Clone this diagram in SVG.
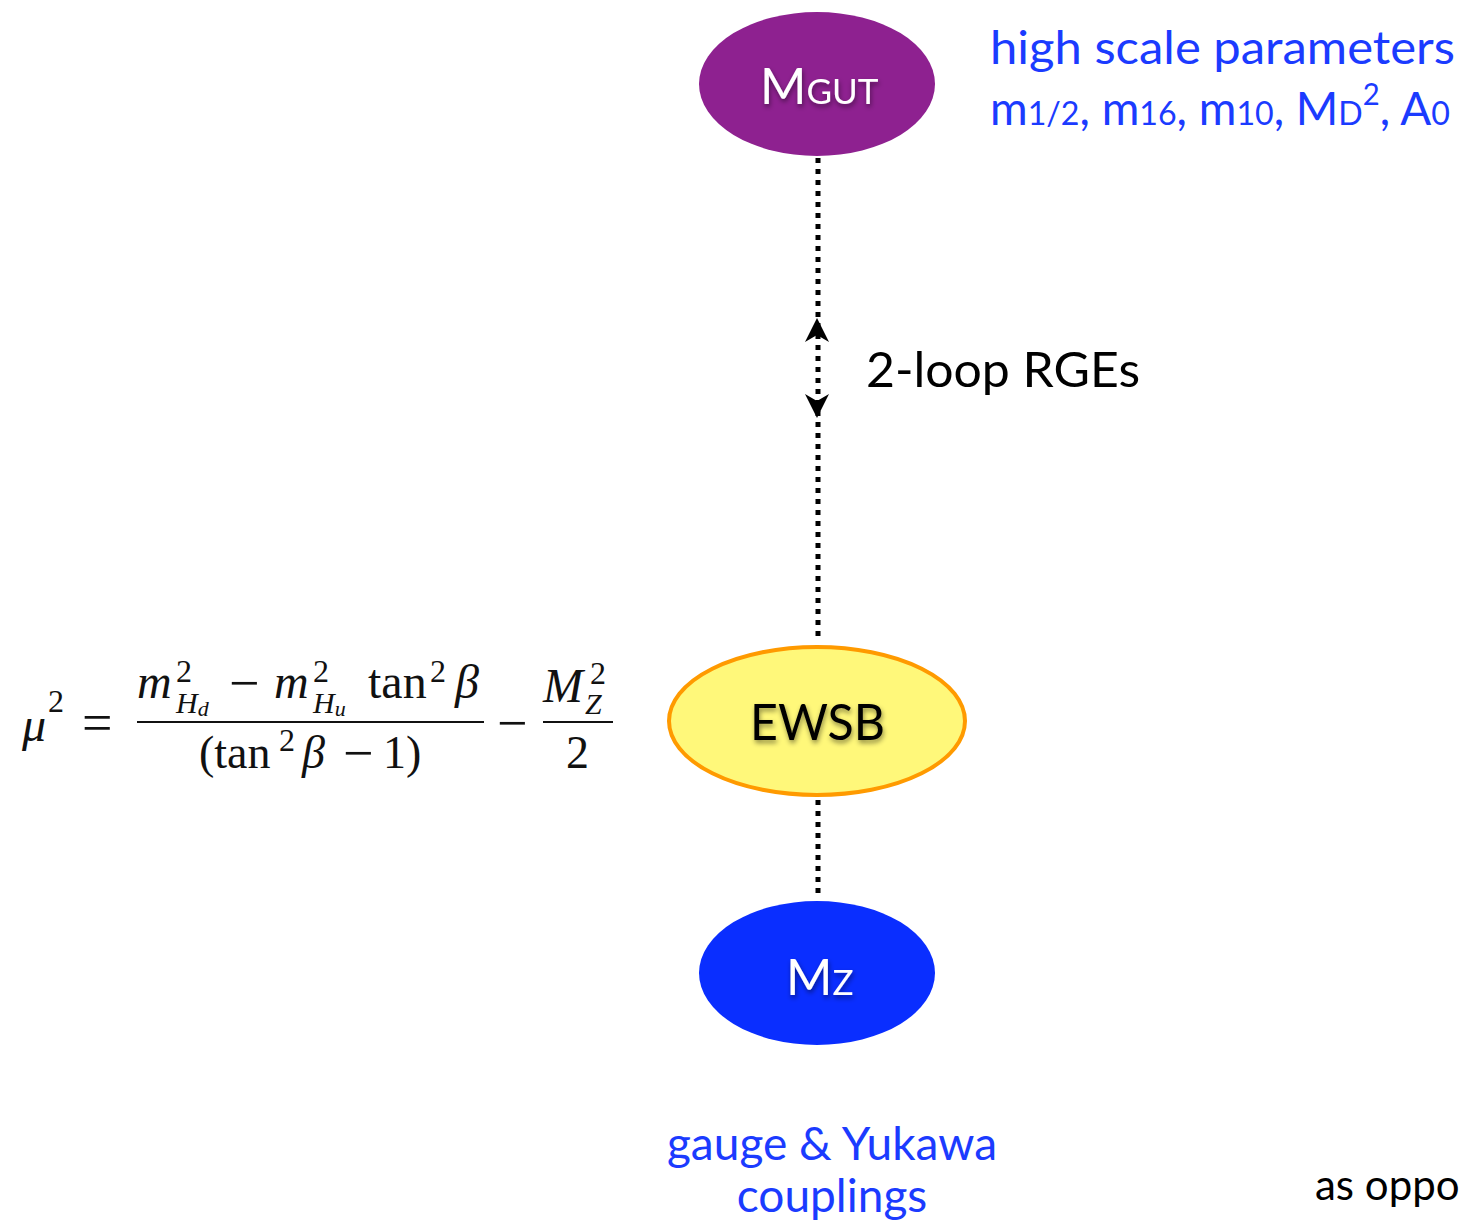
<svg xmlns="http://www.w3.org/2000/svg" xmlns:xlink="http://www.w3.org/1999/xlink" width="1462" height="1227" viewBox="0 0 1462 1227">
<defs>
<style>
.sans{font-family:Lato,"Open Sans","Liberation Sans",sans-serif;}
.blue{fill:#1B3BFF;}
.white{fill:#FFFFFF;}
.black{fill:#000000;}
.math{font-family:"Liberation Serif","DejaVu Serif",serif;fill:#111111;}
.it{font-style:italic;}
.dots{stroke:#000;stroke-width:5;stroke-dasharray:5 6;fill:none;}
</style>
<filter id="shadow" x="-20%" y="-20%" width="140%" height="140%">
<feDropShadow dx="1" dy="3" stdDeviation="2.5" flood-color="#000" flood-opacity="0.45"/>
</filter>
<path id="arrowUp" d="M0,0 L-12,24 L0,17 L12,24 Z" fill="#000"/>
</defs>
<rect width="1462" height="1227" fill="#FFFFFF"/>

<g id="connectors">
<line class="dots" x1="818" y1="158" x2="818" y2="642"/>
<line class="dots" x1="818" y1="800" x2="818" y2="897"/>
<use xlink:href="#arrowUp" x="817" y="318"/>
<use xlink:href="#arrowUp" transform="translate(817,418) scale(1,-1)"/>
</g>

<g id="node-mgut">
<ellipse cx="817" cy="84" rx="118" ry="72" fill="#8E2190"/>
<text class="sans white" x="760" y="104" font-size="50" filter="url(#shadow)">M<tspan font-size="35">GUT</tspan></text>
</g>

<g id="node-ewsb">
<ellipse cx="817" cy="721" rx="148" ry="74" fill="#FFF87A" stroke="#FF9A00" stroke-width="4"/>
<text class="sans black" x="750" y="740" font-size="50" textLength="135" lengthAdjust="spacingAndGlyphs" filter="url(#shadow)">EWSB</text>
</g>

<g id="node-mz">
<ellipse cx="817" cy="973" rx="118" ry="72" fill="#0A2EFF"/>
<text class="sans white" x="786" y="995" font-size="50" filter="url(#shadow)">M<tspan font-size="35">Z</tspan></text>
</g>

<g id="label-high-scale">
<text class="sans blue" x="990" y="64" font-size="46" textLength="465" lengthAdjust="spacingAndGlyphs">high scale parameters</text>
<text class="sans blue" x="990" y="125" font-size="47" textLength="460" lengthAdjust="spacingAndGlyphs">m<tspan font-size="33">1/2</tspan>, m<tspan font-size="33">16</tspan>, m<tspan font-size="33">10</tspan>, M<tspan font-size="33">D</tspan><tspan font-size="30" dy="-20">2</tspan><tspan dy="20">, A</tspan><tspan font-size="33">0</tspan></text>
</g>

<g id="label-rges">
<text class="sans black" x="866" y="387" font-size="48" textLength="274" lengthAdjust="spacingAndGlyphs">2-loop RGEs</text>
</g>

<g id="label-couplings">
<text class="sans blue" x="832" y="1160" font-size="46" text-anchor="middle">gauge &amp; Yukawa</text>
<text class="sans blue" x="832" y="1212" font-size="46" text-anchor="middle">couplings</text>
</g>

<g id="label-as-oppo">
<text class="sans black" x="1315" y="1200" font-size="42">as oppo</text>
</g>

<g id="equation">
<text class="math it" x="22" y="741" font-size="48">μ</text>
<text class="math" x="48" y="712" font-size="32">2</text>
<text class="math" x="82" y="741" font-size="54">=</text>
<line x1="137" y1="722" x2="484" y2="722" stroke="#111" stroke-width="2"/>
<text class="math it" x="137" y="698" font-size="48">m</text>
<text class="math" x="176" y="682" font-size="32">2</text>
<text class="math it" x="176" y="713" font-size="30">H<tspan font-size="22" dy="3">d</tspan></text>
<text class="math" x="229" y="701" font-size="54">−</text>
<text class="math it" x="274" y="698" font-size="48">m</text>
<text class="math" x="313" y="682" font-size="32">2</text>
<text class="math it" x="313" y="713" font-size="30">H<tspan font-size="22" dy="3">u</tspan></text>
<text class="math" x="368" y="698" font-size="48">tan</text>
<text class="math" x="430" y="682" font-size="32">2</text>
<text class="math it" x="455" y="698" font-size="48">β</text>
<text class="math" x="199" y="768" font-size="46">(tan</text>
<text class="math" x="279" y="751" font-size="32">2</text>
<text class="math it" x="302" y="768" font-size="46">β</text>
<text class="math" x="343" y="771" font-size="54">−</text>
<text class="math" x="383" y="768" font-size="46">1)</text>
<text class="math" x="497" y="741" font-size="54">−</text>
<line x1="543" y1="722" x2="613" y2="722" stroke="#111" stroke-width="2"/>
<text class="math it" x="543" y="702" font-size="48">M</text>
<text class="math" x="590" y="684" font-size="32">2</text>
<text class="math it" x="585" y="714" font-size="30">Z</text>
<text class="math" x="566" y="768" font-size="46">2</text>
</g>
</svg>
